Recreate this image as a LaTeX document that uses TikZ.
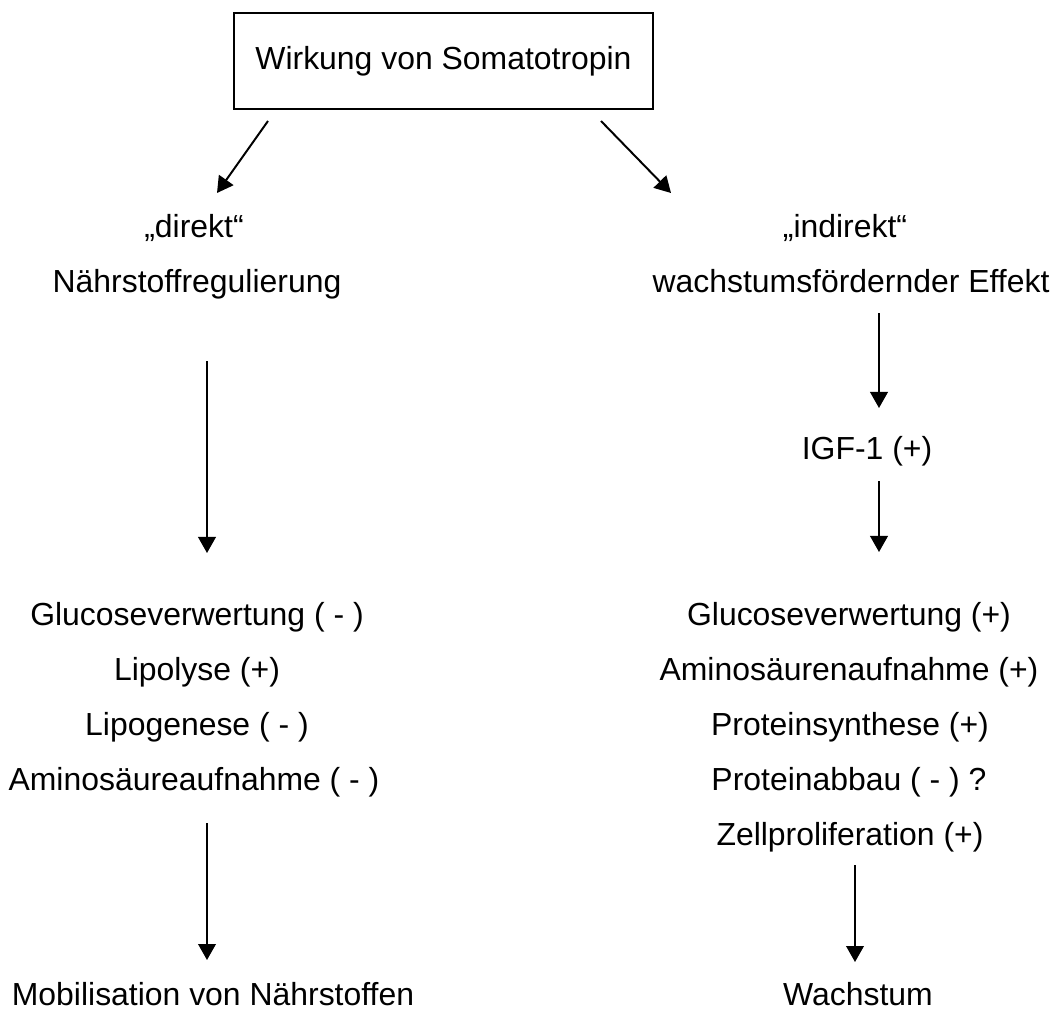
\documentclass[tikz,border=0pt]{standalone}
\usepackage{fontspec}
\setmainfont{Liberation Sans}
\usetikzlibrary{arrows.meta}

\begin{document}
\begin{tikzpicture}[x=0.025cm,y=-0.025cm,
                    txt/.style={inner sep=0pt,anchor=base,font=\fontsize{22.7}{27}\selectfont},
                    pfeil/.style={line width=1.4pt,-{Triangle[width=0.44cm,length=0.4cm]}}]
                              \useasboundingbox (0,0) rectangle (1055,1012);

                              % Box
                              \node[draw,line width=1.4pt,minimum width=10.475cm,minimum height=2.4cm,
                                    inner sep=0pt,font=\fontsize{22.7}{27}\selectfont] (wirkung) at (443.5,61) {Wirkung von Somatotropin};

                              % Left column
                              \node[txt] (direkt) at (194,237) {„direkt“};
                              \node[txt] (naehr) at (197,292) {Nährstoffregulierung};
                              \node[txt] (glucL) at (197,625) {Glucoseverwertung ( - )};
                              \node[txt] (lipo) at (197,680) {Lipolyse (+)};
                              \node[txt] (lipog) at (197,735) {Lipogenese ( - )};
                              \node[txt] (aminoL) at (194,790) {Aminosäureaufnahme ( - )};
                              \node[txt] (mobil) at (213,1005) {Mobilisation von Nährstoffen};

                              % Right column
                              \node[txt] (indirekt) at (845,237) {„indirekt“};
                              \node[txt] (wachsf) at (851,292) {wachstumsfördernder Effekt};
                              \node[txt] (igf) at (867,459) {IGF-1 (+)};
                              \node[txt] (glucR) at (849,625) {Glucoseverwertung (+)};
                              \node[txt] (aminoR) at (849,680) {Aminosäurenaufnahme (+)};
                              \node[txt] (psyn) at (850,735) {Proteinsynthese (+)};
                              \node[txt] (pabb) at (849,790) {Proteinabbau ( - ) ?};
                              \node[txt] (zell) at (850,845) {Zellproliferation (+)};
                              \node[txt] (wachstum) at (858,1005) {Wachstum};

                              % Arrow ends
                              \coordinate (l0) at (268,121);  \coordinate (l1) at (217,193);
                              \coordinate (r0) at (601,121);  \coordinate (r1) at (671,193);
                              \coordinate (l2) at (207,361);  \coordinate (l3) at (207,553);
                              \coordinate (l4) at (207,823);  \coordinate (l5) at (207,960);
                              \coordinate (r2) at (879,313);  \coordinate (r3) at (879,408);
                              \coordinate (r4) at (879,481);  \coordinate (r5) at (879,552);
                              \coordinate (r6) at (855,865);  \coordinate (r7) at (855,962);

                              % Arrows
                              \draw[pfeil] (l0) -- (l1);
                              \draw[pfeil] (r0) -- (r1);
                              \draw[pfeil] (l2) -- (l3);
                              \draw[pfeil] (l4) -- (l5);
                              \draw[pfeil] (r2) -- (r3);
                              \draw[pfeil] (r4) -- (r5);
                              \draw[pfeil] (r6) -- (r7);
                        \end{tikzpicture}
\end{document}
